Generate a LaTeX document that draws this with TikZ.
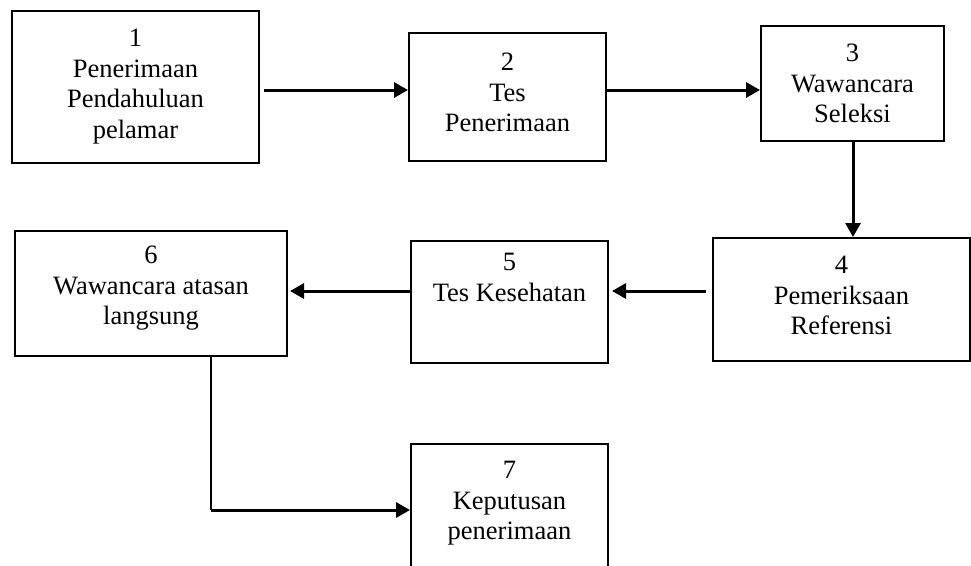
\documentclass[tikz,border=0pt]{standalone}
\usepackage{fontspec}
\setmainfont{Liberation Serif}
\usetikzlibrary{arrows.meta,calc}
\tikzset{
  box/.style={draw=black, line width=2pt, rectangle, inner sep=0pt, anchor=north west},
  txt/.style={align=center, inner sep=0pt, anchor=north, font=\fontsize{26.5}{30.6}\selectfont},
  arr/.style={line width=3pt, -{Triangle[length=14pt,width=15pt]}},
  plain/.style={line width=2pt}
}
\begin{document}
\begin{tikzpicture}[x=1pt,y=-1pt]
\useasboundingbox (0,0) rectangle (971,565);
\clip (0,0) rectangle (971,565);
% boxes
\node[box, minimum width=247pt, minimum height=152pt] (b1) at (11,10) {};
\node[box, minimum width=197pt, minimum height=128pt] (b2) at (408,32) {};
\node[box, minimum width=183pt, minimum height=115pt] (b3) at (760,25) {};
\node[box, minimum width=257pt, minimum height=123pt] (b4) at (712,237) {};
\node[box, minimum width=197pt, minimum height=122pt] (b5) at (410,240) {};
\node[box, minimum width=272pt, minimum height=125pt] (b6) at (14,230) {};
\node[box, minimum width=197pt, minimum height=160pt] (b7) at (410,443) {};
% texts
\node[txt] (t1) at ([yshift=-19pt]b1.north) {1\\Penerimaan\\Pendahuluan\\pelamar};
\node[txt] (t2) at ([yshift=-21pt]b2.north) {2\\Tes\\Penerimaan};
\node[txt] (t3) at ([yshift=-19pt]b3.north) {3\\Wawancara\\Seleksi};
\node[txt] (t4) at ([yshift=-19pt]b4.north) {4\\Pemeriksaan\\Referensi};
\node[txt] (t5) at ([yshift=-13pt]b5.north) {5\\Tes Kesehatan};
\node[txt] (t6) at ([yshift=-16pt]b6.north) {6\\Wawancara atasan\\langsung};
\node[txt] (t7) at ([yshift=-18pt]b7.north) {7\\Keputusan\\penerimaan};
% connectors
\draw[arr, shorten <=4pt] (b1.east |- 0,90) -- (b2.west |- 0,90);
\draw[arr] (b2.east |- 0,90) -- (b3.west |- 0,90);
\draw[arr] (b3.south -| 853,0) -- (b4.north -| 853,0);
\draw[arr, shorten <=6pt, shorten >=3pt] (b4.west |- 0,291) -- (b5.east |- 0,291);
\draw[arr, shorten >=2pt] (b5.west |- 0,291) -- (b6.east |- 0,291);
\coordinate (c67) at (211,510);
\draw[plain] (b6.south -| c67) -- (c67);
\draw[arr] (c67) -- (b7.west |- c67);
\end{tikzpicture}
\end{document}
